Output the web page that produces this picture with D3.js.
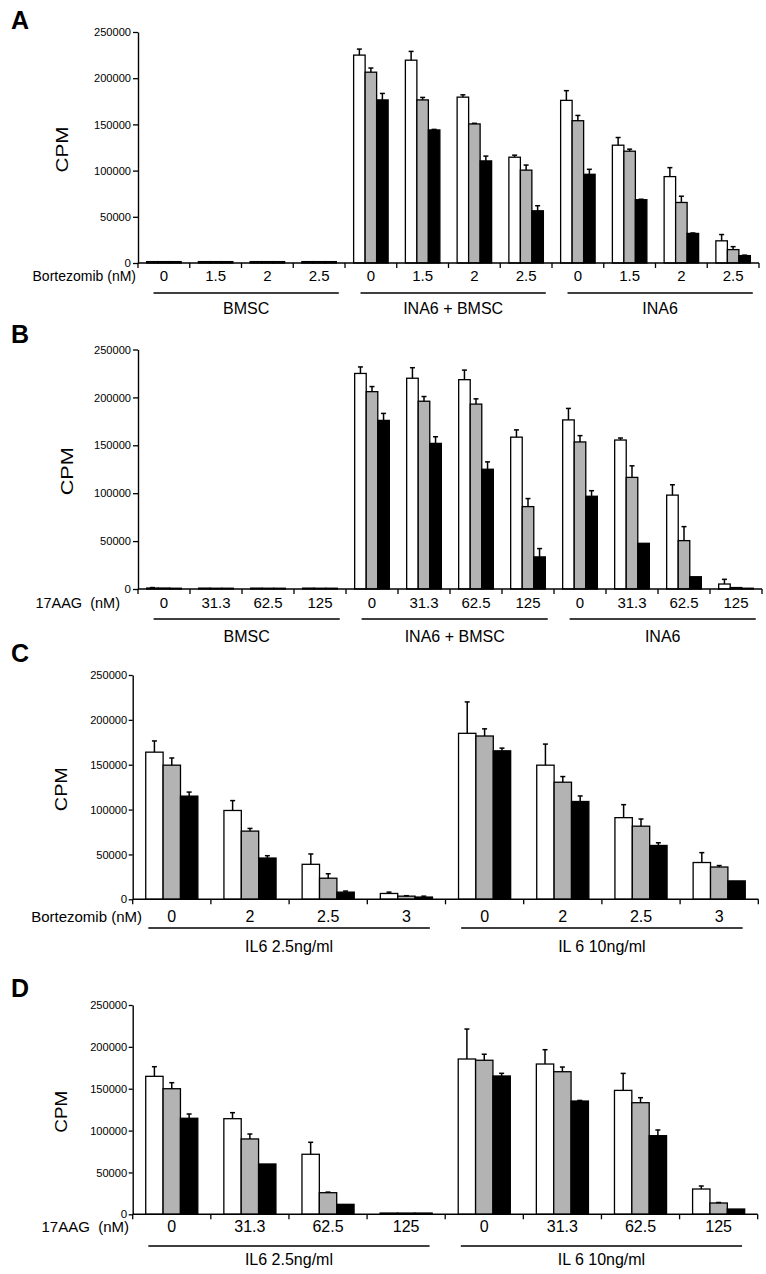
<!DOCTYPE html>
<html>
<head>
<meta charset="utf-8">
<script src="https://cdn.jsdelivr.net/npm/d3@7"></script>
<style>
  html, body { margin: 0; padding: 0; background: #fff; }
  svg { display: block; font-family: "Liberation Sans", Arial, sans-serif; }
</style>
</head>
<body>
<svg id="chart" width="766" height="1274"></svg>
<script>
// ---------------- DATA ----------------
const yTicks = [0, 50000, 100000, 150000, 200000, 250000];
const seriesColors = ["#ffffff", "#b3b3b3", "#000000"];

// Panel A
const catsA = ["0","1.5","2","2.5","0","1.5","2","2.5","0","1.5","2","2.5"];
const groupsA = ["BMSC","INA6 + BMSC","INA6"];
const whiteA = [1500,1500,1500,1500, 225000,219500,179500,114500, 176000,127500,93500,24000];
const whiteErrA = [0,0,0,0, 6500,9500,2500,2200, 10500,8300,9700,6800];
const greyA = [1500,1500,1500,1500, 206500,176500,150500,100500, 154000,121000,65500,14500];
const greyErrA = [0,0,0,0, 4500,2700,700,5500, 5700,2200,6800,3200];
const blackA = [1500,1500,1500,1500, 176500,144000,110500,56500, 96000,68500,32000,8000];
const blackErrA = [0,0,0,0, 7000,600,5200,5500, 5400,500,500,500];

// Panel B
const catsB = ["0","31.3","62.5","125","0","31.3","62.5","125","0","31.3","62.5","125"];
const groupsB = ["BMSC","INA6 + BMSC","INA6"];
const whiteB = [1000,900,900,900, 225000,220000,218500,158500, 176500,155500,98000,5200];
const whiteErrB = [500,0,0,0, 6800,11000,10000,7600, 12000,2100,10800,4900];
const greyB = [1000,800,800,800, 206000,196000,193000,86000, 153500,116500,50500,1500];
const greyErrB = [0,0,0,0, 5300,4900,5500,8400, 6600,12100,14600,0];
const blackB = [800,800,800,800, 176000,152000,125000,33500, 96800,47700,12800,800];
const blackErrB = [0,0,0,0, 7300,6900,7700,8700, 5800,0,0,0];

// Panel C
const catsC = ["0","2","2.5","3","0","2","2.5","3"];
const groupsC = ["IL6 2.5ng/ml","IL 6 10ng/ml"];
const whiteC = [164000,99000,39000,6500, 185000,149500,91000,41000];
const whiteErrC = [12500,11000,11500,1500, 35000,23500,14500,11000];
const greyC = [149500,76000,23500,3500, 182000,130500,81500,36000];
const greyErrC = [8000,3000,5000,500, 8000,6300,8000,1600];
const blackC = [115000,46000,8000,2500, 165500,109000,60000,20500];
const blackErrC = [4500,2600,1200,1000, 3000,6200,3000,0];

// Panel D
const catsD = ["0","31.3","62.5","125","0","31.3","62.5","125"];
const groupsD = ["IL6 2.5ng/ml","IL 6 10ng/ml"];
const whiteD = [164800,114200,71700,1500, 185500,179500,148000,30200];
const whiteErrD = [11500,7200,14300,0, 35800,17100,20300,3600];
const greyD = [150000,90000,25800,1500, 184000,170300,133300,13500];
const greyErrD = [7200,5900,700,0, 7200,5600,6000,600];
const blackD = [114700,60100,11900,1500, 165200,135300,93900,6300];
const blackErrD = [5100,0,0,0, 3200,700,6800,0];

// ---------------- LAYOUT ----------------
const panels = [
  { letter:"A", cats:catsA, groups:groupsA, vals:[whiteA,greyA,blackA], errs:[whiteErrA,greyErrA,blackErrA],
    xTitle:"Bortezomib (nM)", left:138, right:759, top:32, bottom:263,
    letterY:29, cpmX:64, cpmLen:46, catY:277, lineY:293, groupY:310, xTitleX:136,
    tickSize:5, tickPad:2, catFont:15, titleFont:14, lineIn:0.3, lineOut:0.12 },
  { letter:"B", cats:catsB, groups:groupsB, vals:[whiteB,greyB,blackB], errs:[whiteErrB,greyErrB,blackErrB],
    xTitle:"17AAG  (nM)", left:138, right:762, top:349.5, bottom:589,
    letterY:343, cpmX:69, cpmLen:48, catY:604, lineY:619, groupY:638, xTitleX:120,
    tickSize:5, tickPad:2, catFont:15, titleFont:14.5, lineIn:0.3, lineOut:0.12 },
  { letter:"C", cats:catsC, groups:groupsC, vals:[whiteC,greyC,blackC], errs:[whiteErrC,greyErrC,blackErrC],
    xTitle:"Bortezomib (nM)", left:132.7, right:758.3, top:675, bottom:899.3,
    letterY:662, cpmX:63, cpmLen:44, catY:918, lineY:928, groupY:948, xTitleX:142,
    tickSize:4, tickPad:1.5, catFont:16, titleFont:15, lineIn:0.2, lineOut:0.2 },
  { letter:"D", cats:catsD, groups:groupsD, vals:[whiteD,greyD,blackD], errs:[whiteErrD,greyErrD,blackErrD],
    xTitle:"17AAG  (nM)", left:132.7, right:757.7, top:1005, bottom:1214.3,
    letterY:997, cpmX:63, cpmLen:42, catY:1228, lineY:1246, groupY:1261, xTitleX:129,
    tickSize:4, tickPad:1.5, catFont:16, titleFont:15, lineIn:0.2, lineOut:0.2 }
];

const svg = d3.select("#chart");

panels.forEach(p => {
  const g = svg.append("g");
  const n = p.cats.length;
  const x0 = d3.scaleBand().domain(d3.range(n)).range([p.left, p.right]).paddingInner(0).paddingOuter(0);
  const x1 = d3.scaleBand().domain([0,1,2]).range([0, x0.bandwidth()]).paddingInner(0).paddingOuter(0.75);
  const y = d3.scaleLinear().domain([0, 250000]).range([p.bottom, p.top]);

  // Panel letter
  g.append("text").attr("x", 11).attr("y", p.letterY)
    .attr("font-size", 25).attr("font-weight", "bold").attr("fill", "#000")
    .text(p.letter);

  // CPM
  g.append("text")
    .attr("transform", `translate(${p.cpmX},${(p.top + p.bottom) / 2 + 2}) rotate(-90)`)
    .attr("text-anchor", "middle").attr("dominant-baseline", "middle")
    .attr("font-size", 16.5).attr("textLength", p.cpmLen).attr("lengthAdjust", "spacingAndGlyphs")
    .text("CPM");

  // Y axis
  const yAxis = d3.axisLeft(y).tickValues(yTicks).tickFormat(d3.format("d"))
    .tickSize(p.tickSize).tickSizeOuter(0).tickPadding(p.tickPad);
  const ya = g.append("g").attr("transform", `translate(${p.left},0)`).call(yAxis);
  ya.select(".domain").attr("stroke", "#000").attr("stroke-width", 1.4);
  ya.selectAll(".tick line").attr("stroke", "#000").attr("stroke-width", 1.3);
  ya.selectAll(".tick text").attr("font-size", 11.5).attr("fill", "#000")
    .attr("textLength", 37).attr("lengthAdjust", "spacingAndGlyphs");
  ya.selectAll(".tick text").filter(d => d === 0).attr("textLength", null);
  ya.selectAll(".tick text").filter(d => d === 50000).attr("textLength", 31);

  // Bars
  p.vals.forEach((arr, s) => {
    g.append("g").selectAll("rect").data(arr).join("rect")
      .attr("x", (d, i) => x0(i) + x1(s))
      .attr("y", d => y(d))
      .attr("width", x1.bandwidth())
      .attr("height", d => y(0) - y(d))
      .attr("fill", seriesColors[s])
      .attr("stroke", "#000").attr("stroke-width", 1.3);
  });

  // Error bars (upper whisker only)
  p.vals.forEach((arr, s) => {
    const eg = g.append("g").attr("stroke", "#000").attr("stroke-width", 1.5);
    arr.forEach((v, i) => {
      const e = p.errs[s][i];
      if (!e) return;
      const cx = x0(i) + x1(s) + x1.bandwidth() / 2;
      eg.append("line").attr("x1", cx).attr("x2", cx).attr("y1", y(v)).attr("y2", y(v + e));
      eg.append("line").attr("x1", cx - 2.5).attr("x2", cx + 2.5).attr("y1", y(v + e)).attr("y2", y(v + e));
    });
  });

  // X axis line
  g.append("line").attr("x1", p.left).attr("x2", p.right).attr("y1", y(0)).attr("y2", y(0))
    .attr("stroke", "#000").attr("stroke-width", 1.4);
  // Boundary ticks
  const bounds = d3.range(n + 1).map(i => i < n ? x0(i) : x0(n - 1) + x0.step());
  g.append("g").selectAll("line").data(bounds).join("line")
    .attr("x1", d => d).attr("x2", d => d)
    .attr("y1", y(0)).attr("y2", y(0) + 5)
    .attr("stroke", "#000").attr("stroke-width", 1.3);

  // Category labels
  g.append("g").selectAll("text").data(p.cats).join("text")
    .attr("x", (d, i) => x0(i) + x0.bandwidth() / 2)
    .attr("y", p.catY)
    .attr("text-anchor", "middle").attr("dominant-baseline", "middle")
    .attr("font-size", p.catFont).attr("fill", "#000")
    .text(d => d);

  // X title
  g.append("text").attr("x", p.xTitleX).attr("y", p.catY)
    .attr("text-anchor", "end").attr("dominant-baseline", "middle")
    .attr("font-size", p.titleFont).attr("fill", "#000")
    .style("white-space", "pre")
    .text(p.xTitle);

  // Group lines and labels
  const per = n / p.groups.length;
  p.groups.forEach((lab, k) => {
    const gx0 = x0(k * per) + x0.step() * p.lineIn;
    const gx1 = x0(k * per + per - 1) + x0.step() * (1 - p.lineOut);
    g.append("line").attr("x1", gx0).attr("x2", gx1).attr("y1", p.lineY).attr("y2", p.lineY)
      .attr("stroke", "#000").attr("stroke-width", 1.3);
    g.append("text").attr("x", (gx0 + gx1) / 2).attr("y", p.groupY)
      .attr("text-anchor", "middle").attr("dominant-baseline", "middle")
      .attr("font-size", 16).attr("fill", "#000")
      .text(lab);
  });
});
</script>
</body>
</html>
